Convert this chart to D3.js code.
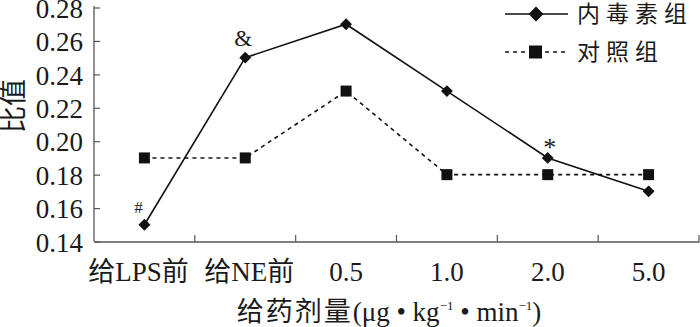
<!DOCTYPE html>
<html><head><meta charset="utf-8">
<script src="https://cdn.jsdelivr.net/npm/d3@7"></script>
<style>
html,body{margin:0;padding:0;background:#fff;}
svg text{font-family:"Liberation Serif","Noto Sans CJK SC",serif;fill:#1a1a1a;}
</style></head>
<body><svg id="c" width="700" height="327"></svg>
<script>
const categories = ["给LPS前","给NE前","0.5","1.0","2.0","5.0"];
const endotoxin = [0.15,0.25,0.27,0.23,0.19,0.17];
const control = [0.19,0.19,0.23,0.18,0.18,0.18];
const yTicks = [0.14,0.16,0.18,0.20,0.22,0.24,0.26,0.28];
const marks = [{i:0,t:"#"},{i:1,t:"&"},{i:4,t:"*"}];
const seriesNames = ["内毒素组","对照组"];

const svg = d3.select("#c");
const x = d3.scaleBand().domain(categories).range([94,699]).padding(0);
const y = d3.scaleLinear().domain([0.14,0.28]).range([241.5,7.5]);
const axisCol = "#555";

// y axis
const ya = svg.append("g").attr("transform","translate(94,0)")
  .call(d3.axisLeft(y).tickValues(yTicks).tickFormat(d3.format(".2f")).tickSizeInner(-6).tickSizeOuter(0).tickPadding(11));
ya.select(".domain").attr("stroke",axisCol).attr("stroke-width",1.3);
ya.selectAll(".tick line").attr("stroke",axisCol).attr("stroke-width",1.2);
ya.selectAll(".tick text").attr("font-size",27).attr("dy","0.36em").attr("fill","#1a1a1a");
ya.select(".domain").attr("d","M0,6V241.5");

// x axis
const xa = svg.append("g").attr("transform","translate(0,241.5)")
  .call(d3.axisBottom(x).tickSize(0).tickPadding(20));
xa.select(".domain").attr("stroke",axisCol).attr("stroke-width",1.3);
xa.selectAll(".tick text").attr("font-size",27).attr("fill","#1a1a1a")
  .attr("dx",(d,i)=> i===0? -6 : (i===1? 4 : 0));
// ticks at band boundaries (inward)
const bounds = categories.slice(1).map(c=>x(c)).concat([x.range()[1]]);
svg.append("g").selectAll("line").data(bounds).join("line")
  .attr("x1",d=>d).attr("x2",d=>d).attr("y1",241.5).attr("y2",235)
  .attr("stroke",axisCol).attr("stroke-width",1.2);

// axis titles
svg.append("text").attr("transform","translate(23,106) rotate(-90)")
  .attr("text-anchor","middle").attr("font-size",27).text("比值");
const xt = svg.append("text").attr("x",389).attr("y",321).attr("text-anchor","middle").attr("font-size",27);
xt.append("tspan").attr("letter-spacing",2).text("给药剂量");
xt.append("tspan").text("(μg • kg");
xt.append("tspan").attr("font-size",13).attr("dy",-11).text("−1");
xt.append("tspan").attr("dy",11).text(" • min");
xt.append("tspan").attr("font-size",13).attr("dy",-11).text("−1");
xt.append("tspan").attr("dy",11).text(")");

const cx = d=>x(d)+x.bandwidth()/2;
const diamond = d3.symbol().type(d3.symbolDiamond2);

// control series (dashed, squares)
svg.append("path").datum(control)
  .attr("d",d3.line().x((d,i)=>cx(categories[i])).y(d=>y(d)))
  .attr("fill","none").attr("stroke","#111").attr("stroke-width",1.6).attr("stroke-dasharray","4,4");
svg.append("g").selectAll("rect").data(control).join("rect")
  .attr("x",(d,i)=>cx(categories[i])-5.5).attr("y",d=>y(d)-5.5)
  .attr("width",11).attr("height",11).attr("fill","#111");

// endotoxin series (solid, diamonds)
svg.append("path").datum(endotoxin)
  .attr("d",d3.line().x((d,i)=>cx(categories[i])).y(d=>y(d)))
  .attr("fill","none").attr("stroke","#111").attr("stroke-width",1.6);
svg.append("g").selectAll("path").data(endotoxin).join("path")
  .attr("transform",(d,i)=>`translate(${cx(categories[i])},${y(d)})`)
  .attr("d",diamond.size(90)()).attr("fill","#111");

// significance marks
svg.append("g").selectAll("text").data(marks).join("text")
  .attr("x",d=>cx(categories[d.i]) + (d.t==="#"?-6:(d.t==="&"?-2:2)))
  .attr("y",d=>y(endotoxin[d.i]) - (d.t==="*"?2:12))
  .attr("text-anchor","middle").attr("font-size",d=>d.t==="&"?23:(d.t==="*"?26:17))
  .text(d=>d.t);

// legend
const lg = svg.append("g");
lg.append("line").attr("x1",505).attr("x2",568).attr("y1",14).attr("y2",14).attr("stroke","#111").attr("stroke-width",1.6);
lg.append("path").attr("transform","translate(536,14)").attr("d",d3.symbol().type(d3.symbolDiamond2).size(140)()).attr("fill","#111");
lg.append("text").attr("x",577).attr("y",22).attr("font-size",23).attr("letter-spacing",6).text(seriesNames[0]);
lg.append("line").attr("x1",505).attr("x2",568).attr("y1",52).attr("y2",52).attr("stroke","#111").attr("stroke-width",1.6).attr("stroke-dasharray","4,4");
lg.append("rect").attr("x",529).attr("y",45.5).attr("width",13).attr("height",13).attr("fill","#111");
lg.append("text").attr("x",577).attr("y",60).attr("font-size",23).attr("letter-spacing",6).text(seriesNames[1]);
</script></body></html>
